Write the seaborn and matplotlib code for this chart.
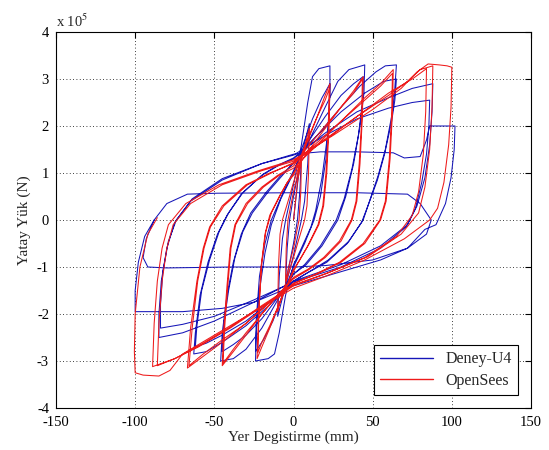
"""
Yatay yük - yer değiştirme histerezis eğrileri: deney (U4) ve OpenSees modeli.
Kuvvetler 1e5 N biriminde, yer değiştirmeler mm.
"""

import matplotlib
matplotlib.use("Agg")
import matplotlib.pyplot as plt
import pandas as pd
import seaborn as sns

# ── OpenSees cycles (disp mm, force x1e5 N) ──────────────────────────────────
ops_c1 = [(0, 0.0), (2.5, 0.8), (5, 1.3), (4.6, 0.6), (3.5, 0.0), (0, -0.6), (-3, -1.0),
          (-5, -1.3), (-4.6, -0.6), (-3.5, 0.0), (0, 0.6)]
ops_c2 = [(0, 0.6), (5, 1.3), (8.5, 1.75), (10, 1.95), (9.5, 1.0), (8.5, 0.3), (7, 0.0),
          (3, -0.45), (0, -0.8), (-5, -1.35), (-8.5, -1.75), (-10, -1.95), (-9.5, -1.0),
          (-8.5, -0.3), (-7, 0.0), (-3, 0.45), (0, 0.8)]
ops_c3 = [(0, 0.8), (8, 1.6), (15, 2.2), (20, 2.65), (23, 2.9), (22.5, 2.0), (21, 1.0),
          (19, 0.3), (16, -0.1), (10, -0.5), (4, -0.85), (0, -1.05), (-8, -1.7), (-15, -2.3),
          (-20, -2.7), (-23, -2.95), (-22, -2.0), (-20.5, -1.0), (-18, -0.3), (-15, 0.1),
          (-9, 0.5), (-4, 0.8), (0, 0.95)]
ops_c4 = [(0, 0.95), (8, 1.65), (15, 2.2), (20, 2.55), (22.5, 2.78), (22, 1.9), (20.5, 1.0),
          (18.5, 0.3), (15.5, -0.1), (9, -0.55), (3, -0.9), (0, -1.1), (-8, -1.7), (-15, -2.25),
          (-20, -2.6), (-22.5, -2.82), (-21.8, -1.9), (-20, -0.9), (-17.5, -0.25), (-14, 0.15),
          (-8, 0.55), (-3, 0.85), (0, 1.0)]
ops_c5 = [(0, 1.0), (10, 1.5), (20, 1.95), (30, 2.4), (38, 2.75), (44, 3.05), (43.5, 2.2),
          (42, 1.2), (40, 0.4), (37, 0.0), (30, -0.45), (20, -0.8), (10, -1.05), (0, -1.25),
          (-10, -1.6), (-20, -2.0), (-30, -2.45), (-38, -2.8), (-45, -3.1), (-44, -2.3),
          (-42, -1.4), (-40, -0.6), (-37, -0.1), (-30, 0.35), (-20, 0.7), (-10, 0.95), (0, 1.15)]
ops_c6 = [(0, 1.15), (10, 1.6), (20, 2.0), (30, 2.4), (38, 2.7), (43.5, 3.0), (43, 2.1),
          (41.5, 1.2), (39.5, 0.4), (36.5, 0.0), (29, -0.45), (19, -0.8), (9, -1.05), (0, -1.22),
          (-10, -1.6), (-20, -2.0), (-30, -2.4), (-38, -2.75), (-44.5, -3.05), (-43.5, -2.3),
          (-41.5, -1.4), (-39.5, -0.6), (-36.5, -0.1), (-29, 0.35), (-19, 0.7), (-9, 0.95),
          (0, 1.1)]
ops_c7 = [(0, 1.1), (15, 1.6), (30, 2.1), (45, 2.6), (55, 2.9), (63, 3.2), (62.5, 2.3),
          (61, 1.3), (58.5, 0.4), (55, 0.0), (45, -0.5), (30, -0.9), (15, -1.15), (0, -1.35),
          (-15, -1.75), (-30, -2.2), (-45, -2.6), (-57, -2.9), (-67, -3.15), (-65, -2.3),
          (-61, -1.3), (-57, -0.6), (-53, -0.15), (-45, 0.3), (-30, 0.75), (-15, 1.0), (0, 1.2)]
ops_c8 = [(0, 1.2), (15, 1.65), (30, 2.1), (45, 2.55), (55, 2.85), (62.5, 3.12), (62, 2.25),
          (60.5, 1.3), (58, 0.4), (54.5, 0.0), (44, -0.5), (29, -0.9), (14, -1.15), (0, -1.35),
          (-15, -1.75), (-30, -2.2), (-45, -2.55), (-57, -2.85), (-66, -3.1), (-64, -2.3),
          (-60.5, -1.3), (-56.5, -0.6), (-52.5, -0.15), (-44, 0.3), (-29, 0.75), (-14, 1.0),
          (0, 1.22)]
ops_c9 = [(0, 1.22), (20, 1.7), (40, 2.2), (60, 2.7), (75, 3.0), (84, 3.22), (83.5, 2.3),
          (82, 1.4), (79, 0.6), (75, 0.1), (65, -0.35), (45, -0.8), (20, -1.15), (0, -1.4),
          (-20, -1.85), (-40, -2.3), (-60, -2.7), (-75, -2.95), (-86, -3.1), (-85, -2.2),
          (-83, -1.3), (-80, -0.6), (-76, -0.1), (-65, 0.35), (-45, 0.75), (-20, 1.05), (0, 1.25)]
ops_c10 = [(0, 1.25), (20, 1.72), (40, 2.2), (60, 2.65), (72, 2.95), (80, 3.2), (88, 3.28),
           (87.5, 2.4), (86, 1.5), (83, 0.7), (79, 0.15), (68, -0.3), (47, -0.78), (22, -1.12),
           (0, -1.38), (-20, -1.82), (-40, -2.28), (-60, -2.68), (-75, -2.95), (-89, -3.12),
           (-88, -2.2), (-86, -1.3), (-83, -0.6), (-79, -0.1), (-68, 0.35), (-47, 0.75),
           (-22, 1.05), (0, 1.28)]
ops_c11 = [(0, 1.28), (25, 1.8), (50, 2.35), (68, 2.8), (78, 3.15), (85, 3.32), (92, 3.3),
           (97, 3.28), (100, 3.25), (99.5, 2.4), (98, 1.6), (95, 0.8), (91, 0.25), (86, 0.0),
           (70, -0.4), (45, -0.85), (20, -1.2), (0, -1.45), (-25, -1.95), (-50, -2.45),
           (-70, -2.85), (-78, -3.2), (-85, -3.32), (-95, -3.3), (-100, -3.25), (-100.5, -2.8),
           (-100, -2.0), (-97, -1.0), (-92, -0.3), (-86, 0.05)]

# ── Deney-U4 cycles ──────────────────────────────────────────────────────────
dny_c1 = [(0, 0.0), (3, 0.9), (5, 1.35), (4, 0.6), (2.5, 0.0), (0, -0.5), (-3, -1.0),
          (-5, -1.35), (-4, -0.6), (-2.5, 0.0), (0, 0.5)]
dny_c2 = [(0, 0.5), (5, 1.35), (8.5, 1.85), (10, 2.05), (9, 1.2), (7, 0.4), (5, 0.0),
          (2, -0.45), (0, -0.75), (-5, -1.4), (-8.5, -1.85), (-10, -2.05), (-9, -1.2),
          (-7, -0.4), (-5, 0.0), (-2, 0.45), (0, 0.75)]
dny_c3 = [(0, 0.75), (5, 1.6), (9, 2.5), (12, 3.05), (16, 3.22), (23, 3.28), (23, 2.7),
          (21.5, 1.8), (18, 0.9), (14, 0.2), (11, -0.15), (5, -0.6), (0, -0.95), (-5, -1.6),
          (-9, -2.4), (-12, -2.85), (-16, -2.95), (-24, -3.0), (-23.5, -2.4), (-21.5, -1.5),
          (-18, -0.7), (-14, -0.1), (-8, 0.45), (0, 1.0)]
dny_c4 = [(0, 1.0), (6, 1.6), (12, 2.15), (18, 2.6), (23, 2.9), (22.5, 2.2), (20.5, 1.3),
          (17, 0.5), (13, 0.0), (7, -0.5), (0, -1.0), (-7, -1.6), (-13, -2.15), (-19, -2.55),
          (-24, -2.8), (-23.5, -2.1), (-21.5, -1.2), (-18, -0.5), (-14, 0.0), (-7, 0.55),
          (0, 1.05)]
dny_c5 = [(0, 1.05), (10, 1.7), (20, 2.4), (28, 2.95), (35, 3.2), (45, 3.3), (44.5, 2.7),
          (42, 2.0), (38, 1.2), (33, 0.5), (28, 0.0), (18, -0.55), (8, -0.95), (0, -1.15),
          (-10, -1.7), (-20, -2.3), (-30, -2.75), (-38, -2.95), (-46, -3.0), (-45, -2.4),
          (-42, -1.6), (-38, -0.9), (-33, -0.3), (-27, 0.15), (-17, 0.6), (-8, 0.95), (0, 1.2)]
dny_c6 = [(0, 1.2), (10, 1.7), (20, 2.2), (30, 2.65), (38, 2.9), (44, 3.05), (43.5, 2.5),
          (41, 1.8), (37, 1.1), (32, 0.45), (27, 0.0), (17, -0.55), (7, -0.95), (0, -1.15),
          (-10, -1.65), (-20, -2.1), (-30, -2.45), (-38, -2.65), (-45, -2.8), (-44, -2.2),
          (-41, -1.5), (-37, -0.8), (-32, -0.25), (-26, 0.15), (-16, 0.6), (-7, 0.95), (0, 1.22)]
dny_c7 = [(0, 1.22), (15, 1.8), (30, 2.4), (42, 2.85), (52, 3.15), (58, 3.28), (65, 3.3),
          (64, 2.8), (62.5, 2.3), (58, 1.5), (53.5, 0.95), (48, 0.4), (44, 0.0), (35, -0.45),
          (22, -0.85), (10, -1.1), (0, -1.3), (-15, -1.8), (-30, -2.25), (-45, -2.6), (-55, -2.8),
          (-63, -2.85), (-62, -2.4), (-59, -1.6), (-54, -0.9), (-48, -0.3), (-42, 0.1),
          (-33, 0.55), (-20, 0.95), (-10, 1.15), (0, 1.3)]
dny_c8 = [(0, 1.3), (15, 1.8), (30, 2.3), (45, 2.7), (57, 2.95), (65, 3.0), (64, 2.55),
          (62, 2.1), (57.5, 1.4), (53, 0.85), (47, 0.3), (43, -0.05), (34, -0.5), (21, -0.9),
          (9, -1.12), (0, -1.3), (-15, -1.75), (-30, -2.15), (-45, -2.45), (-55, -2.62),
          (-62, -2.7), (-61, -2.25), (-58, -1.5), (-53, -0.85), (-47, -0.25), (-41, 0.15),
          (-32, 0.58), (-19, 0.98), (-9, 1.18), (0, 1.32)]
dny_c9 = [(0, 1.32), (20, 1.85), (40, 2.3), (60, 2.6), (75, 2.8), (88, 2.9), (87.5, 2.3),
          (86, 1.6), (83, 0.9), (78, 0.3), (72, -0.1), (55, -0.55), (30, -0.95), (0, -1.3),
          (-25, -1.75), (-50, -2.15), (-70, -2.4), (-85, -2.5), (-85, -2.0), (-83.5, -1.3),
          (-80, -0.6), (-75, -0.05), (-65, 0.4), (-45, 0.85), (-20, 1.2), (0, 1.38)]
dny_c10 = [(0, 1.38), (20, 1.8), (40, 2.15), (60, 2.38), (75, 2.5), (86, 2.55), (85.5, 2.0),
           (84, 1.4), (81, 0.8), (77, 0.25), (71, -0.15), (55, -0.6), (30, -1.0), (0, -1.32),
           (-25, -1.7), (-50, -2.05), (-70, -2.22), (-84, -2.3), (-84, -1.8), (-82.5, -1.1),
           (-79, -0.45), (-74, 0.0), (-64, 0.45), (-45, 0.88), (-20, 1.2), (0, 1.4)]
dny_c11 = [(0, 1.4), (17, 1.45), (40, 1.45), (63, 1.43), (70, 1.32), (80, 1.35), (84, 1.7),
           (86, 2.0), (95, 2.0), (102, 2.0), (101.5, 1.5), (99.5, 0.9), (96, 0.35), (90, -0.1),
           (83, -0.2), (72, -0.6), (55, -0.85), (30, -1.1), (0, -1.4), (-25, -1.75),
           (-45, -1.88), (-70, -1.95), (-100, -1.95), (-100, -1.5), (-98, -0.9), (-94, -0.35),
           (-88, 0.0)]
dny_c12 = [(-88, 0.0), (-80, 0.35), (-67, 0.55), (-48, 0.57), (0, 0.58), (40, 0.58),
           (72, 0.55), (80, 0.35), (87, 0.0), (84, -0.3), (72, -0.6), (50, -0.85), (20, -0.97),
           (0, -1.0), (-40, -1.0), (-80, -1.02), (-92, -1.0), (-95, -0.8), (-93, -0.4),
           (-88, 0.0)]

OPS_CYCLES = [ops_c1, ops_c2, ops_c3, ops_c4, ops_c5, ops_c6, ops_c7, ops_c8, ops_c9,
              ops_c10, ops_c11]
DNY_CYCLES = [dny_c1, dny_c2, dny_c3, dny_c4, dny_c5, dny_c6, dny_c7, dny_c8, dny_c9,
              dny_c10, dny_c11, dny_c12]

SERIES = ["Deney-U4", "OpenSees"]
COLORS = {"Deney-U4": "#1616b8", "OpenSees": "#ee1a1a"}


def to_frame(cycles, label):
    pts = [p for c in cycles for p in c]
    return pd.DataFrame({
        "disp": [p[0] for p in pts],
        "force": [p[1] for p in pts],
        "seri": label,
    })


df = pd.concat([to_frame(DNY_CYCLES, SERIES[0]), to_frame(OPS_CYCLES, SERIES[1])],
               ignore_index=True)

# ── Plot ──────────────────────────────────────────────────────────────────────
sns.set_style("white")
plt.rcParams["font.family"] = ["Liberation Serif", "DejaVu Serif"]
plt.rcParams["mathtext.fontset"] = "stix"
plt.rcParams["axes.unicode_minus"] = False

fig = plt.figure(figsize=(5.49, 4.5), dpi=100)
ax = fig.add_axes([56 / 549, 42 / 450, 475 / 549, 376 / 450])

sns.lineplot(data=df, x="disp", y="force", hue="seri", hue_order=SERIES,
             palette=COLORS, estimator=None, sort=False, units="seri",
             linewidth=0.75, ax=ax)

ax.set_xlim(-150, 150)
ax.set_ylim(-4, 4)
ax.set_xticks(range(-150, 151, 50))
ax.set_yticks(range(-4, 5))
ax.grid(True, linestyle=(0, (1, 3)), color="black", linewidth=0.6)
ax.tick_params(direction="in", top=True, right=True, labelsize=10.5,
               length=4, width=0.8, colors="black")
ax.tick_params(axis="x", pad=6)
ax.tick_params(axis="y", pad=5)
for s in ax.spines.values():
    s.set_color("black")
    s.set_linewidth(0.8)

ax.set_xlabel("Yer Degistirme (mm)", fontsize=11, labelpad=1)
ax.set_ylabel("Yatay Yük (N)", fontsize=11, labelpad=4)
ax.text(0.0, 1.006, r"x 10$^{5}$", transform=ax.transAxes, ha="left", va="bottom",
        fontsize=10.5)

leg = ax.legend(loc="lower right", fontsize=11.5, frameon=True, fancybox=False,
                edgecolor="black", framealpha=1, handlelength=3.3,
                borderaxespad=0.8, labelspacing=0.35, title=None)
leg.get_frame().set_linewidth(0.8)
for line in leg.get_lines():
    line.set_linewidth(1.0)

fig.savefig("out.png", dpi=100)
plt.close(fig)
